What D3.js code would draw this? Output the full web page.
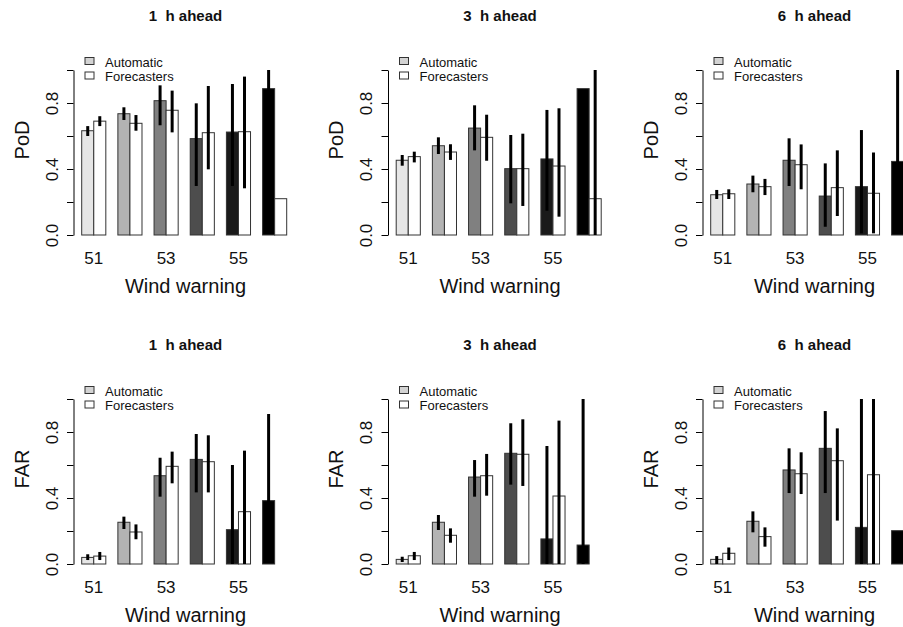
<!DOCTYPE html>
<html>
<head>
<meta charset="utf-8">
<script src="https://cdn.jsdelivr.net/npm/d3@7"></script>
<style>
  body { margin: 0; background: #fff; }
  text { font-family: "Liberation Sans", Arial, sans-serif; fill: #111; }
</style>
</head>
<body>
<div id="chart"></div>
<script>
// wind warning classes and lead times
var categories = ["51", "52", "53", "54", "55", "56"];
var shownTicks = ["51", "53", "55"];
var leadTimes = ["1", "3", "6"];
var seriesNames = ["Automatic", "Forecasters"];
var groupFills = ["#e6e6e6", "#b3b3b3", "#808080", "#4d4d4d", "#1a1a1a", "#000000"];
var yTicks = [0, 0.2, 0.4, 0.6, 0.8, 1.0];
var yLabelled = [0, 0.4, 0.8];

// PoD, one row per lead time
var podAuto = [
    [0.632, 0.735, 0.814, 0.584, 0.624, 0.887],
    [0.453, 0.541, 0.648, 0.402, 0.461, 0.887],
    [0.244, 0.309, 0.453, 0.236, 0.293, 0.446]
];
var podFcst = [
    [0.690, 0.677, 0.756, 0.620, 0.626, 0.220],
    [0.475, 0.503, 0.592, 0.402, 0.418, 0.220],
    [0.250, 0.293, 0.426, 0.287, 0.253, null]
];
var podAutoCI = [
    [[0.60, 0.66], [0.697, 0.774], [0.665, 0.907], [0.297, 0.798], [0.297, 0.915], [0.75, 1.0]],
    [[0.42, 0.485], [0.491, 0.592], [0.513, 0.786], [0.192, 0.606], [0.147, 0.758], null],
    [[0.218, 0.273], [0.259, 0.36], [0.297, 0.586], [0.05, 0.434], [0.01, 0.636], [0.1, 1.0]]
];
var podFcstCI = [
    [[0.66, 0.72], [0.632, 0.727], [0.622, 0.875], [0.398, 0.903], [0.283, 0.96], null],
    [[0.44, 0.505], [0.455, 0.55], [0.45, 0.729], [0.176, 0.614], [0.111, 0.768], [0, 1.0]],
    [[0.218, 0.277], [0.242, 0.34], [0.277, 0.549], [0.115, 0.513], [0.01, 0.5], null]
];

// FAR, one row per lead time
var farAuto = [
    [0.040, 0.253, 0.535, 0.634, 0.208, 0.384],
    [0.028, 0.253, 0.527, 0.671, 0.152, 0.115],
    [0.028, 0.259, 0.570, 0.701, 0.222, 0.202]
];
var farFcst = [
    [0.048, 0.194, 0.592, 0.620, 0.317, 0],
    [0.050, 0.174, 0.535, 0.665, 0.412, 0],
    [0.065, 0.166, 0.547, 0.626, 0.541, null]
];
var farAutoCI = [
    [[0.024, 0.059], [0.212, 0.287], [0.408, 0.644], [0.434, 0.788], [0, 0.6], [0.05, 0.909]],
    [[0.012, 0.044], [0.206, 0.297], [0.408, 0.63], [0.481, 0.853], [0, 0.715], [0, 1.0]],
    [[0, 0.048], [0.192, 0.319], [0.43, 0.701], [0.43, 0.927], [0, 1.0], null]
];
var farFcstCI = [
    [[0.024, 0.073], [0.15, 0.24], [0.489, 0.681], [0.434, 0.78], [0, 0.687], null],
    [[0.024, 0.073], [0.129, 0.216], [0.414, 0.667], [0.473, 0.877], [0, 0.869], null],
    [[0.024, 0.1], [0.105, 0.222], [0.424, 0.677], [0.263, 0.822], [0, 1.0], null]
];

var svg = d3.select("#chart").append("svg")
    .attr("width", 903)
    .attr("height", 627);
svg.append("rect").attr("width", 903).attr("height", 627).attr("fill", "#fff");

function drawPanel(col, row, ylab, auto, fcst, autoCI, fcstCI) {
    var left = 73.5 + 314.5 * col;
    var base = 235 + 329 * row;
    var cx = left + 112;

    // barplot units: bar width 1, one bar gap between groups
    var x = d3.scaleLinear().domain([0.32, 18.68]).range([left, left + 221.4]);
    var y = d3.scaleLinear().domain([0, 1]).range([base, base - 165]);

    var g = svg.append("g");

    var bars = [];
    categories.forEach(function(c, i) {
        bars.push({s: 0, i: i, v: auto[i], ci: autoCI[i]});
        bars.push({s: 1, i: i, v: fcst[i], ci: fcstCI[i]});
    });
    var drawn = bars.filter(function(d) { return d.v !== null; });

    g.selectAll("rect.bar")
        .data(drawn)
        .enter()
        .append("rect")
        .attr("class", "bar")
        .attr("x", function(d) { return x(1 + 3 * d.i + d.s); })
        .attr("width", function(d) { return x(2) - x(1); })
        .attr("y", function(d) { return y(d.v); })
        .attr("height", function(d) { return y(0) - y(d.v); })
        .attr("fill", function(d) { return d.s === 0 ? groupFills[d.i] : "#fff"; })
        .attr("stroke", "#333")
        .attr("stroke-width", 1);

    g.selectAll("line.err")
        .data(bars.filter(function(d) { return d.ci !== null; }))
        .enter()
        .append("line")
        .attr("class", "err")
        .attr("x1", function(d) { return x(1.5 + 3 * d.i + d.s); })
        .attr("x2", function(d) { return x(1.5 + 3 * d.i + d.s); })
        .attr("y1", function(d) { return y(d.ci[0]); })
        .attr("y2", function(d) { return y(d.ci[1]); })
        .attr("stroke", "#000")
        .attr("stroke-width", 3);

    // y axis, R style with rotated labels
    var yAxis = d3.axisLeft(y)
        .tickValues(yTicks)
        .tickSize(6.5)
        .tickSizeOuter(0)
        .tickFormat(function(d) { return yLabelled.indexOf(d) >= 0 ? d.toFixed(1) : ""; });
    var ag = g.append("g")
        .attr("transform", "translate(" + left + ",0)")
        .call(yAxis);
    ag.select(".domain").attr("stroke", "#000");
    ag.selectAll(".tick line").attr("stroke", "#000");
    ag.selectAll(".tick text")
        .attr("x", null).attr("dy", null)
        .attr("transform", "translate(-16,0) rotate(-90)")
        .attr("text-anchor", "middle")
        .style("font-size", "17px")
        .style("font-family", "'Liberation Sans', Arial, sans-serif")
        .attr("fill", "#111");

    // category labels
    g.selectAll("text.xlab")
        .data(categories.filter(function(c) { return shownTicks.indexOf(c) >= 0; }))
        .enter()
        .append("text")
        .attr("class", "xlab")
        .attr("x", function(c) { return x(2 + 3 * categories.indexOf(c)); })
        .attr("y", base + 28.5)
        .attr("text-anchor", "middle")
        .style("font-size", "17px")
        .text(function(c) { return c; });

    g.append("text")
        .attr("x", cx)
        .attr("y", base - 214)
        .attr("text-anchor", "middle")
        .style("font-size", "15px")
        .style("font-weight", "bold")
        .style("white-space", "pre")
        .text(leadTimes[col] + "  h ahead");

    g.append("text")
        .attr("x", cx)
        .attr("y", base + 58)
        .attr("text-anchor", "middle")
        .style("font-size", "20px")
        .text("Wind warning");

    g.append("text")
        .attr("transform", "translate(" + (left - 45) + "," + (base - 95) + ") rotate(-90)")
        .attr("text-anchor", "middle")
        .style("font-size", "20px")
        .text(ylab);

    // legend
    var leg = g.selectAll("g.leg")
        .data(seriesNames)
        .enter()
        .append("g")
        .attr("class", "leg")
        .attr("transform", function(d, i) { return "translate(" + (left + 11.5) + "," + (base - 177.5 + i * 14.5) + ")"; });
    leg.append("rect")
        .attr("width", 9)
        .attr("height", 7)
        .attr("fill", function(d, i) { return i === 0 ? "#d3d3d3" : "#fff"; })
        .attr("stroke", "#333");
    leg.append("text")
        .attr("x", 20)
        .attr("y", 9)
        .style("font-size", "13px")
        .text(function(d) { return d; });
}

leadTimes.forEach(function(t, k) {
    drawPanel(k, 0, "PoD", podAuto[k], podFcst[k], podAutoCI[k], podFcstCI[k]);
    drawPanel(k, 1, "FAR", farAuto[k], farFcst[k], farAutoCI[k], farFcstCI[k]);
});
</script>
</body>
</html>
